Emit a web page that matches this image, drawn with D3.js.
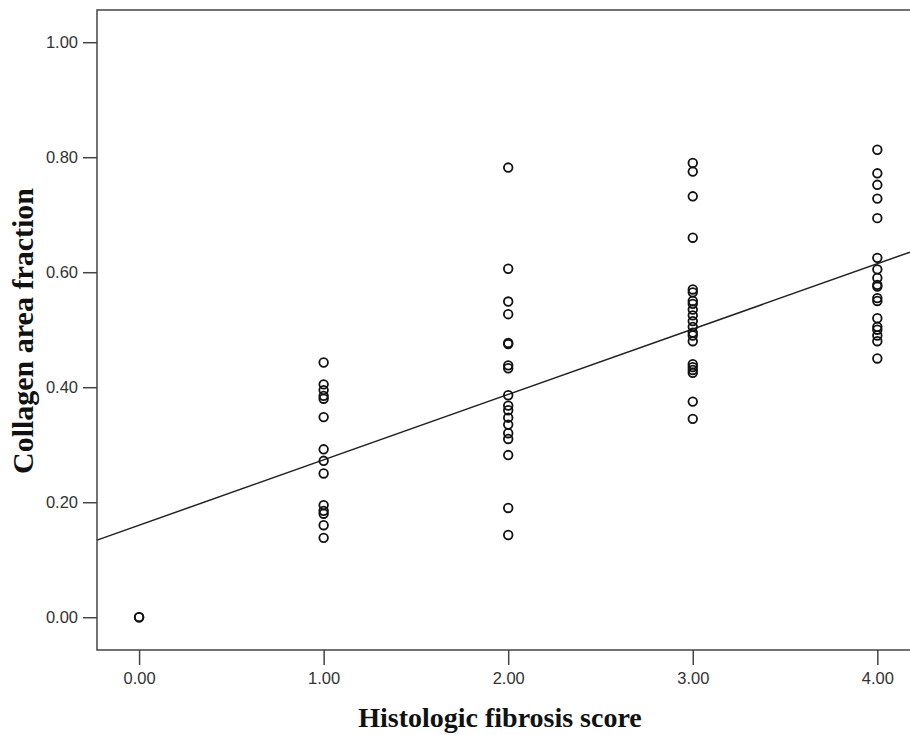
<!DOCTYPE html>
<html lang="en">
<head>
  <meta charset="UTF-8" />
  <title>Collagen area fraction vs histologic fibrosis score</title>
  <script src="https://d3js.org/d3.v7.min.js"></script>
  <style>
    body {
      margin: 0;
      background-color: #ffffff;
    }

    .tick text {
      font-family: 'Liberation Sans', Arial, sans-serif;
      font-size: 16.5px;
      fill: #333;
    }

    .tick line {
      stroke: #444;
      stroke-width: 1.5;
    }

    .axis-title {
      font-family: 'Liberation Serif', 'Times New Roman', serif;
      font-weight: bold;
      fill: #111;
    }

    .dot {
      fill: none;
      stroke: #111;
      stroke-width: 1.8;
    }

    .fit-line {
      stroke: #222;
      stroke-width: 1.5;
    }
  </style>
</head>
<body>

  <div id="chart"></div>

  <script>
    // fibrosis score for each group of cases
    const scores = [0, 1, 2, 3, 4];

    // collagen area fraction per case, one list per score
    const score0 = [0, 0];
    const score1 = [0.443, 0.405, 0.395, 0.385, 0.38, 0.348, 0.292, 0.272, 0.25, 0.195, 0.185, 0.18, 0.16, 0.138];
    const score2 = [0.782, 0.606, 0.549, 0.527, 0.477, 0.475, 0.438, 0.433, 0.386, 0.368, 0.36, 0.347, 0.335, 0.32, 0.31, 0.282, 0.19, 0.143];
    const score3 = [0.79, 0.775, 0.732, 0.66, 0.57, 0.565, 0.55, 0.545, 0.535, 0.525, 0.515, 0.505, 0.495, 0.49, 0.48, 0.44, 0.435, 0.43, 0.425, 0.375, 0.345];
    const score4 = [0.813, 0.772, 0.752, 0.728, 0.694, 0.625, 0.605, 0.59, 0.578, 0.575, 0.555, 0.55, 0.52, 0.505, 0.5, 0.49, 0.48, 0.45];

    // fitted line
    const fitIntercept = 0.160;
    const fitSlope = 0.1137;

    const xTicks = [0, 1, 2, 3, 4];
    const yTicks = [0, 0.2, 0.4, 0.6, 0.8, 1.0];

    const xTitle = "Histologic fibrosis score";
    const yTitle = "Collagen area fraction";

    function drawChart() {
      const margin = { top: 10, right: 0, bottom: 85, left: 97 };
      const svgWidth = 910;
      const svgHeight = 735;
      const width = svgWidth - margin.left - margin.right;
      const height = svgHeight - margin.top - margin.bottom;

      const svg = d3.select("#chart")
        .append("svg")
        .attr("width", svgWidth)
        .attr("height", svgHeight);

      const g = svg.append("g")
        .attr("transform", `translate(${margin.left},${margin.top})`);

      const x = d3.scaleLinear()
        .domain([-0.228, 4.177])
        .range([0, width]);

      const y = d3.scaleLinear()
        .domain([-0.057, 1.056])
        .range([height, 0]);

      const points = [];
      [score0, score1, score2, score3, score4].forEach((list, i) => {
        list.forEach(v => points.push({ score: scores[i], value: v }));
      });

      // plot frame, right edge runs past the window
      g.append("rect")
        .attr("width", width + 20)
        .attr("height", height)
        .attr("fill", "none")
        .attr("stroke", "#444")
        .attr("stroke-width", 1.5);

      const xAxis = g.append("g")
        .attr("transform", `translate(0,${height})`)
        .call(d3.axisBottom(x)
          .tickValues(xTicks)
          .tickFormat(d3.format(".2f"))
          .tickSize(15)
          .tickSizeOuter(0)
          .tickPadding(7));
      xAxis.select(".domain").remove();

      const yAxis = g.append("g")
        .call(d3.axisLeft(y)
          .tickValues(yTicks)
          .tickFormat(d3.format(".2f"))
          .tickSize(14)
          .tickSizeOuter(0)
          .tickPadding(5));
      yAxis.select(".domain").remove();

      g.append("line")
        .attr("class", "fit-line")
        .attr("x1", x(x.domain()[0]))
        .attr("y1", y(fitIntercept + fitSlope * x.domain()[0]))
        .attr("x2", x(x.domain()[1]))
        .attr("y2", y(fitIntercept + fitSlope * x.domain()[1]));

      g.selectAll(".dot")
        .data(points)
        .enter()
        .append("circle")
        .attr("class", "dot")
        .attr("cx", d => x(d.score))
        .attr("cy", d => y(d.value))
        .attr("r", 4.3);

      svg.append("text")
        .attr("class", "axis-title")
        .attr("text-anchor", "middle")
        .attr("font-size", 28)
        .attr("x", 500)
        .attr("y", 727)
        .text(xTitle);

      svg.append("text")
        .attr("class", "axis-title")
        .attr("text-anchor", "middle")
        .attr("font-size", 30)
        .attr("transform", "translate(33,331) rotate(-90)")
        .text(yTitle);
    }

    drawChart();
  </script>

</body>
</html>
